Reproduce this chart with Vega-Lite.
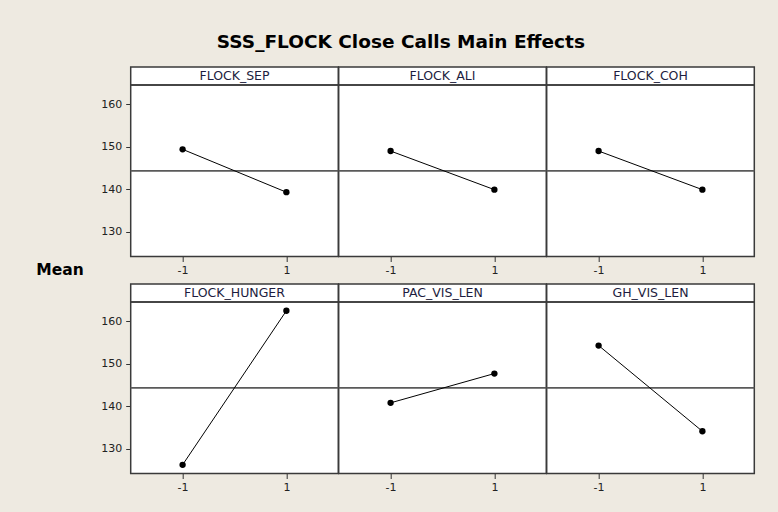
{
  "$schema": "https://vega.github.io/schema/vega-lite/v6.json",
  "background": "#EEEAE1",
  "padding": {"left": 20, "top": 32, "right": 24, "bottom": 19},
  "title": {"text": "SSS_FLOCK Close Calls Main Effects", "font": "DejaVu Sans", "fontSize": 18.5, "fontWeight": "bold", "color": "#000000", "anchor": "middle", "offset": 14, "dx": 13},
  "bounds": "flush",
  "spacing": 30.7,
  "config": {
    "view": {"fill": "white", "stroke": "#3a3a3a", "strokeWidth": 1.5},
    "axis": {"labelFont": "DejaVu Sans", "labelFontSize": 11, "labelColor": "#222222", "tickColor": "#333333", "tickSize": 5, "grid": false, "domain": false, "title": null}
  },
  "hconcat": [
    {
      "width": 80,
      "height": 406,
      "view": {"stroke": null, "fill": null},
      "data": {"values": [{"label": "Mean"}]},
      "mark": {"type": "text", "font": "DejaVu Sans", "fontSize": 15.5, "fontWeight": "bold", "color": "#000000"},
      "encoding": {"text": {"field": "label"}}
    },
    {
      "data": {"values": [
        {"factor": "FLOCK_SEP", "level": -1, "mean": 149.4},
        {"factor": "FLOCK_SEP", "level": 1, "mean": 139.3},
        {"factor": "FLOCK_ALI", "level": -1, "mean": 149.0},
        {"factor": "FLOCK_ALI", "level": 1, "mean": 139.9},
        {"factor": "FLOCK_COH", "level": -1, "mean": 149.0},
        {"factor": "FLOCK_COH", "level": 1, "mean": 139.9},
        {"factor": "FLOCK_HUNGER", "level": -1, "mean": 126.2},
        {"factor": "FLOCK_HUNGER", "level": 1, "mean": 162.5},
        {"factor": "PAC_VIS_LEN", "level": -1, "mean": 140.8},
        {"factor": "PAC_VIS_LEN", "level": 1, "mean": 147.7},
        {"factor": "GH_VIS_LEN", "level": -1, "mean": 154.3},
        {"factor": "GH_VIS_LEN", "level": 1, "mean": 134.1}
      ]},
      "transform": [{"joinaggregate": [{"op": "mean", "field": "mean", "as": "grand"}]}],
      "facet": {"field": "factor", "type": "nominal", "title": null, "header": {"labelExpr": "''", "labelPadding": 0, "labelFontSize": 1, "labelColor": "transparent"}, "sort": ["FLOCK_SEP", "FLOCK_ALI", "FLOCK_COH", "FLOCK_HUNGER", "PAC_VIS_LEN", "GH_VIS_LEN"]},
      "columns": 3,
      "bounds": "flush",
      "spacing": {"row": 27, "column": 0},
      "resolve": {"axis": {"x": "independent"}},
      "spec": {
        "width": 207.6,
        "height": 189.5,
        "layer": [
          {
            "mark": {"type": "rule", "color": "#3a3a3a", "strokeWidth": 1.5},
            "encoding": {"y": {"datum": 164.55, "type": "quantitative", "scale": {"domain": [124.15, 168.8], "nice": false, "zero": false}}}
          },
          {
            "transform": [{"filter": "datum.level == -1"}],
            "mark": {"type": "text", "font": "DejaVu Sans", "fontSize": 12.5, "color": "#1d1d40", "baseline": "middle", "align": "center"},
            "encoding": {
              "x": {"datum": 0, "type": "quantitative", "scale": {"domain": [-2, 2], "nice": false, "zero": false}},
              "y": {"datum": 166.7, "type": "quantitative", "scale": {"domain": [124.15, 168.8], "nice": false, "zero": false}},
              "text": {"field": "factor"}
            }
          },
          {
            "mark": {"type": "rule", "color": "#5a5a5a", "strokeWidth": 1.5},
            "encoding": {"y": {"field": "grand", "type": "quantitative", "scale": {"domain": [124.15, 168.8], "nice": false, "zero": false}}}
          },
          {
            "mark": {"type": "line", "color": "#000000", "strokeWidth": 1},
            "encoding": {
              "x": {"field": "level", "type": "quantitative", "scale": {"domain": [-2, 2], "nice": false, "zero": false}, "axis": {"values": [-1, 1], "format": "d", "labelExpr": "replace(datum.label, '\u2212', '-')", "labelPadding": 3}},
              "y": {"field": "mean", "type": "quantitative", "scale": {"domain": [124.15, 168.8], "nice": false, "zero": false}, "axis": {"values": [130, 140, 150, 160], "labelPadding": 4}}
            }
          },
          {
            "mark": {"type": "point", "filled": true, "color": "#000000", "size": 40, "opacity": 1},
            "encoding": {
              "x": {"field": "level", "type": "quantitative", "scale": {"domain": [-2, 2], "nice": false, "zero": false}},
              "y": {"field": "mean", "type": "quantitative", "scale": {"domain": [124.15, 168.8], "nice": false, "zero": false}}
            }
          }
        ]
      }
    }
  ]
}
